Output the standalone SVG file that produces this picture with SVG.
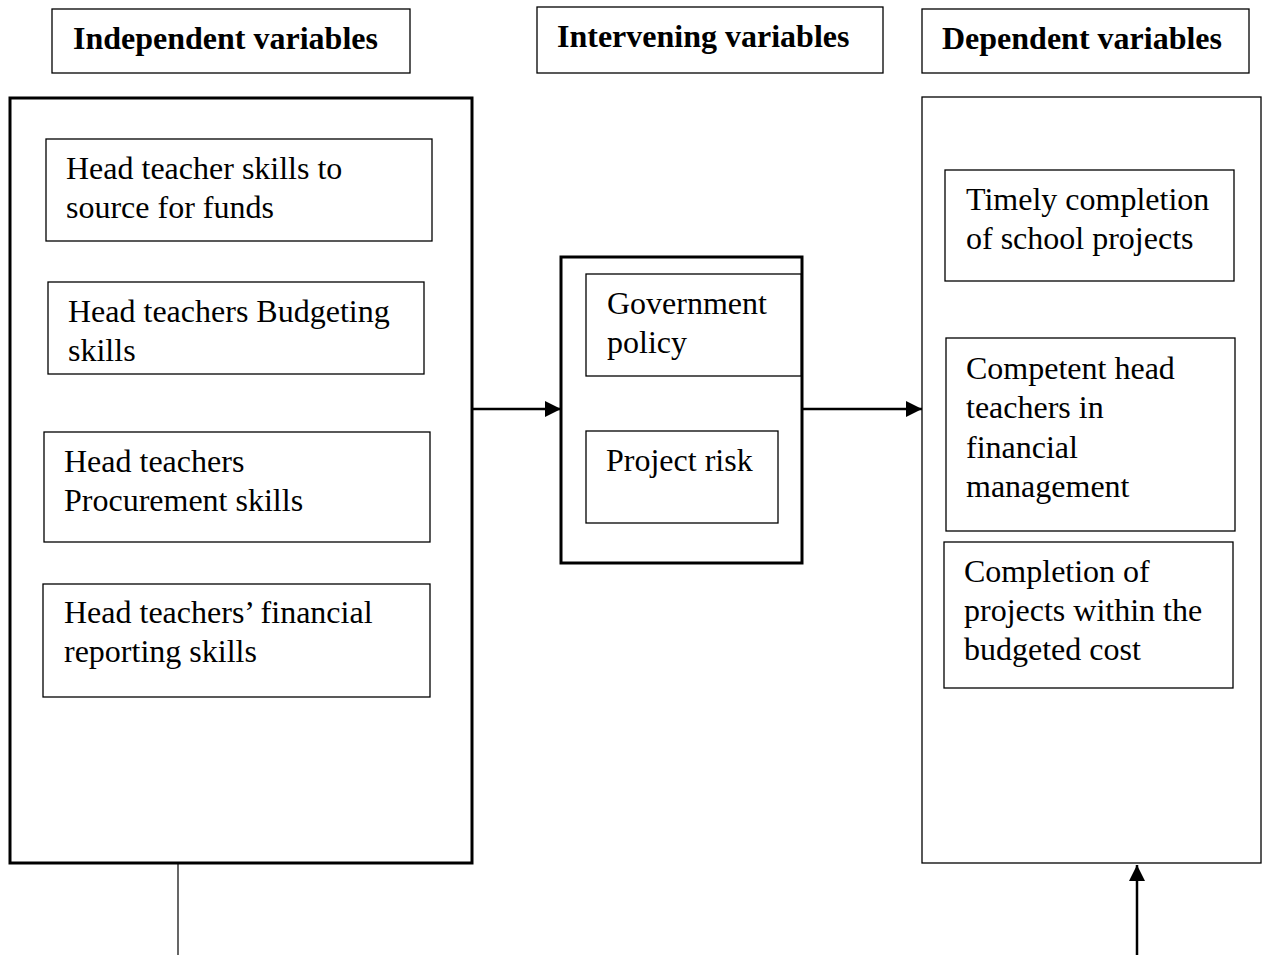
<svg xmlns="http://www.w3.org/2000/svg" width="1266" height="955" viewBox="0 0 1266 955">
  <style>
    .box { fill: #fff; stroke: #000; stroke-width: 1.3; }
    .thick { fill: #fff; stroke: #000; stroke-width: 3; }
    .t { font-family: "Liberation Serif", "Times New Roman", serif; font-size: 32px; fill: #000; }
    .h { font-family: "Liberation Serif", "Times New Roman", serif; font-size: 32px; font-weight: bold; fill: #000; }
    .conn { stroke: #000; stroke-width: 2.5; fill: none; }
  </style>
  <defs>
    <marker id="arrow" markerUnits="userSpaceOnUse" markerWidth="18" markerHeight="18" refX="16" refY="8" orient="auto">
      <path d="M0,0 L16,8 L0,16 Z" fill="#000"/>
    </marker>
  </defs>
  <rect width="1266" height="955" fill="#fff"/>

  <!-- column headers -->
  <g id="hdr-independent">
    <rect class="box" x="52" y="9" width="358" height="64"/>
    <text class="h" x="73" y="49">Independent variables</text>
  </g>
  <g id="hdr-intervening">
    <rect class="box" x="537" y="7" width="346" height="66"/>
    <text class="h" x="557" y="47">Intervening variables</text>
  </g>
  <g id="hdr-dependent">
    <rect class="box" x="922" y="9" width="327" height="64"/>
    <text class="h" x="942" y="49">Dependent variables</text>
  </g>

  <!-- independent variables -->
  <g id="independent">
    <rect class="thick" x="10" y="98" width="462" height="765"/>
    <g id="iv-funds">
      <rect class="box" x="46" y="139" width="386" height="102"/>
      <text class="t" x="66" y="179">Head teacher skills to</text>
      <text class="t" x="66" y="218">source for funds</text>
    </g>
    <g id="iv-budgeting">
      <rect class="box" x="48" y="282" width="376" height="92"/>
      <text class="t" x="68" y="322">Head teachers Budgeting</text>
      <text class="t" x="68" y="361">skills</text>
    </g>
    <g id="iv-procurement">
      <rect class="box" x="44" y="432" width="386" height="110"/>
      <text class="t" x="64" y="472">Head teachers</text>
      <text class="t" x="64" y="511">Procurement skills</text>
    </g>
    <g id="iv-reporting">
      <rect class="box" x="43" y="584" width="387" height="113"/>
      <text class="t" x="64" y="623">Head teachers’ financial</text>
      <text class="t" x="64" y="662">reporting skills</text>
    </g>
  </g>

  <!-- intervening variables -->
  <g id="intervening">
    <rect class="thick" x="561" y="257" width="241" height="306"/>
    <g id="mv-policy">
      <rect class="box" x="586" y="274" width="215" height="102"/>
      <text class="t" x="607" y="314">Government</text>
      <text class="t" x="607" y="353">policy</text>
    </g>
    <g id="mv-risk">
      <rect class="box" x="586" y="431" width="192" height="92"/>
      <text class="t" x="606" y="471">Project risk</text>
    </g>
  </g>

  <!-- dependent variables -->
  <g id="dependent">
    <rect class="box" x="922" y="97" width="339" height="766"/>
    <g id="dv-timely">
      <rect class="box" x="945" y="170" width="289" height="111"/>
      <text class="t" x="966" y="210">Timely completion</text>
      <text class="t" x="966" y="249">of school projects</text>
    </g>
    <g id="dv-competent">
      <rect class="box" x="946" y="338" width="289" height="193"/>
      <text class="t" x="966" y="379">Competent head</text>
      <text class="t" x="966" y="418">teachers in</text>
      <text class="t" x="966" y="458">financial</text>
      <text class="t" x="966" y="497">management</text>
    </g>
    <g id="dv-budget">
      <rect class="box" x="944" y="542" width="289" height="146"/>
      <text class="t" x="964" y="582">Completion of</text>
      <text class="t" x="964" y="621">projects within the</text>
      <text class="t" x="964" y="660">budgeted cost</text>
    </g>
  </g>

  <!-- connectors -->
  <g id="connectors">
    <line class="conn" x1="473" y1="409" x2="561" y2="409" marker-end="url(#arrow)"/>
    <line class="conn" x1="803" y1="409" x2="922" y2="409" marker-end="url(#arrow)"/>
    <line x1="178" y1="863" x2="178" y2="955" stroke="#000" stroke-width="1.2"/>
    <line class="conn" x1="1137" y1="955" x2="1137" y2="865" marker-end="url(#arrow)"/>
  </g>
</svg>
